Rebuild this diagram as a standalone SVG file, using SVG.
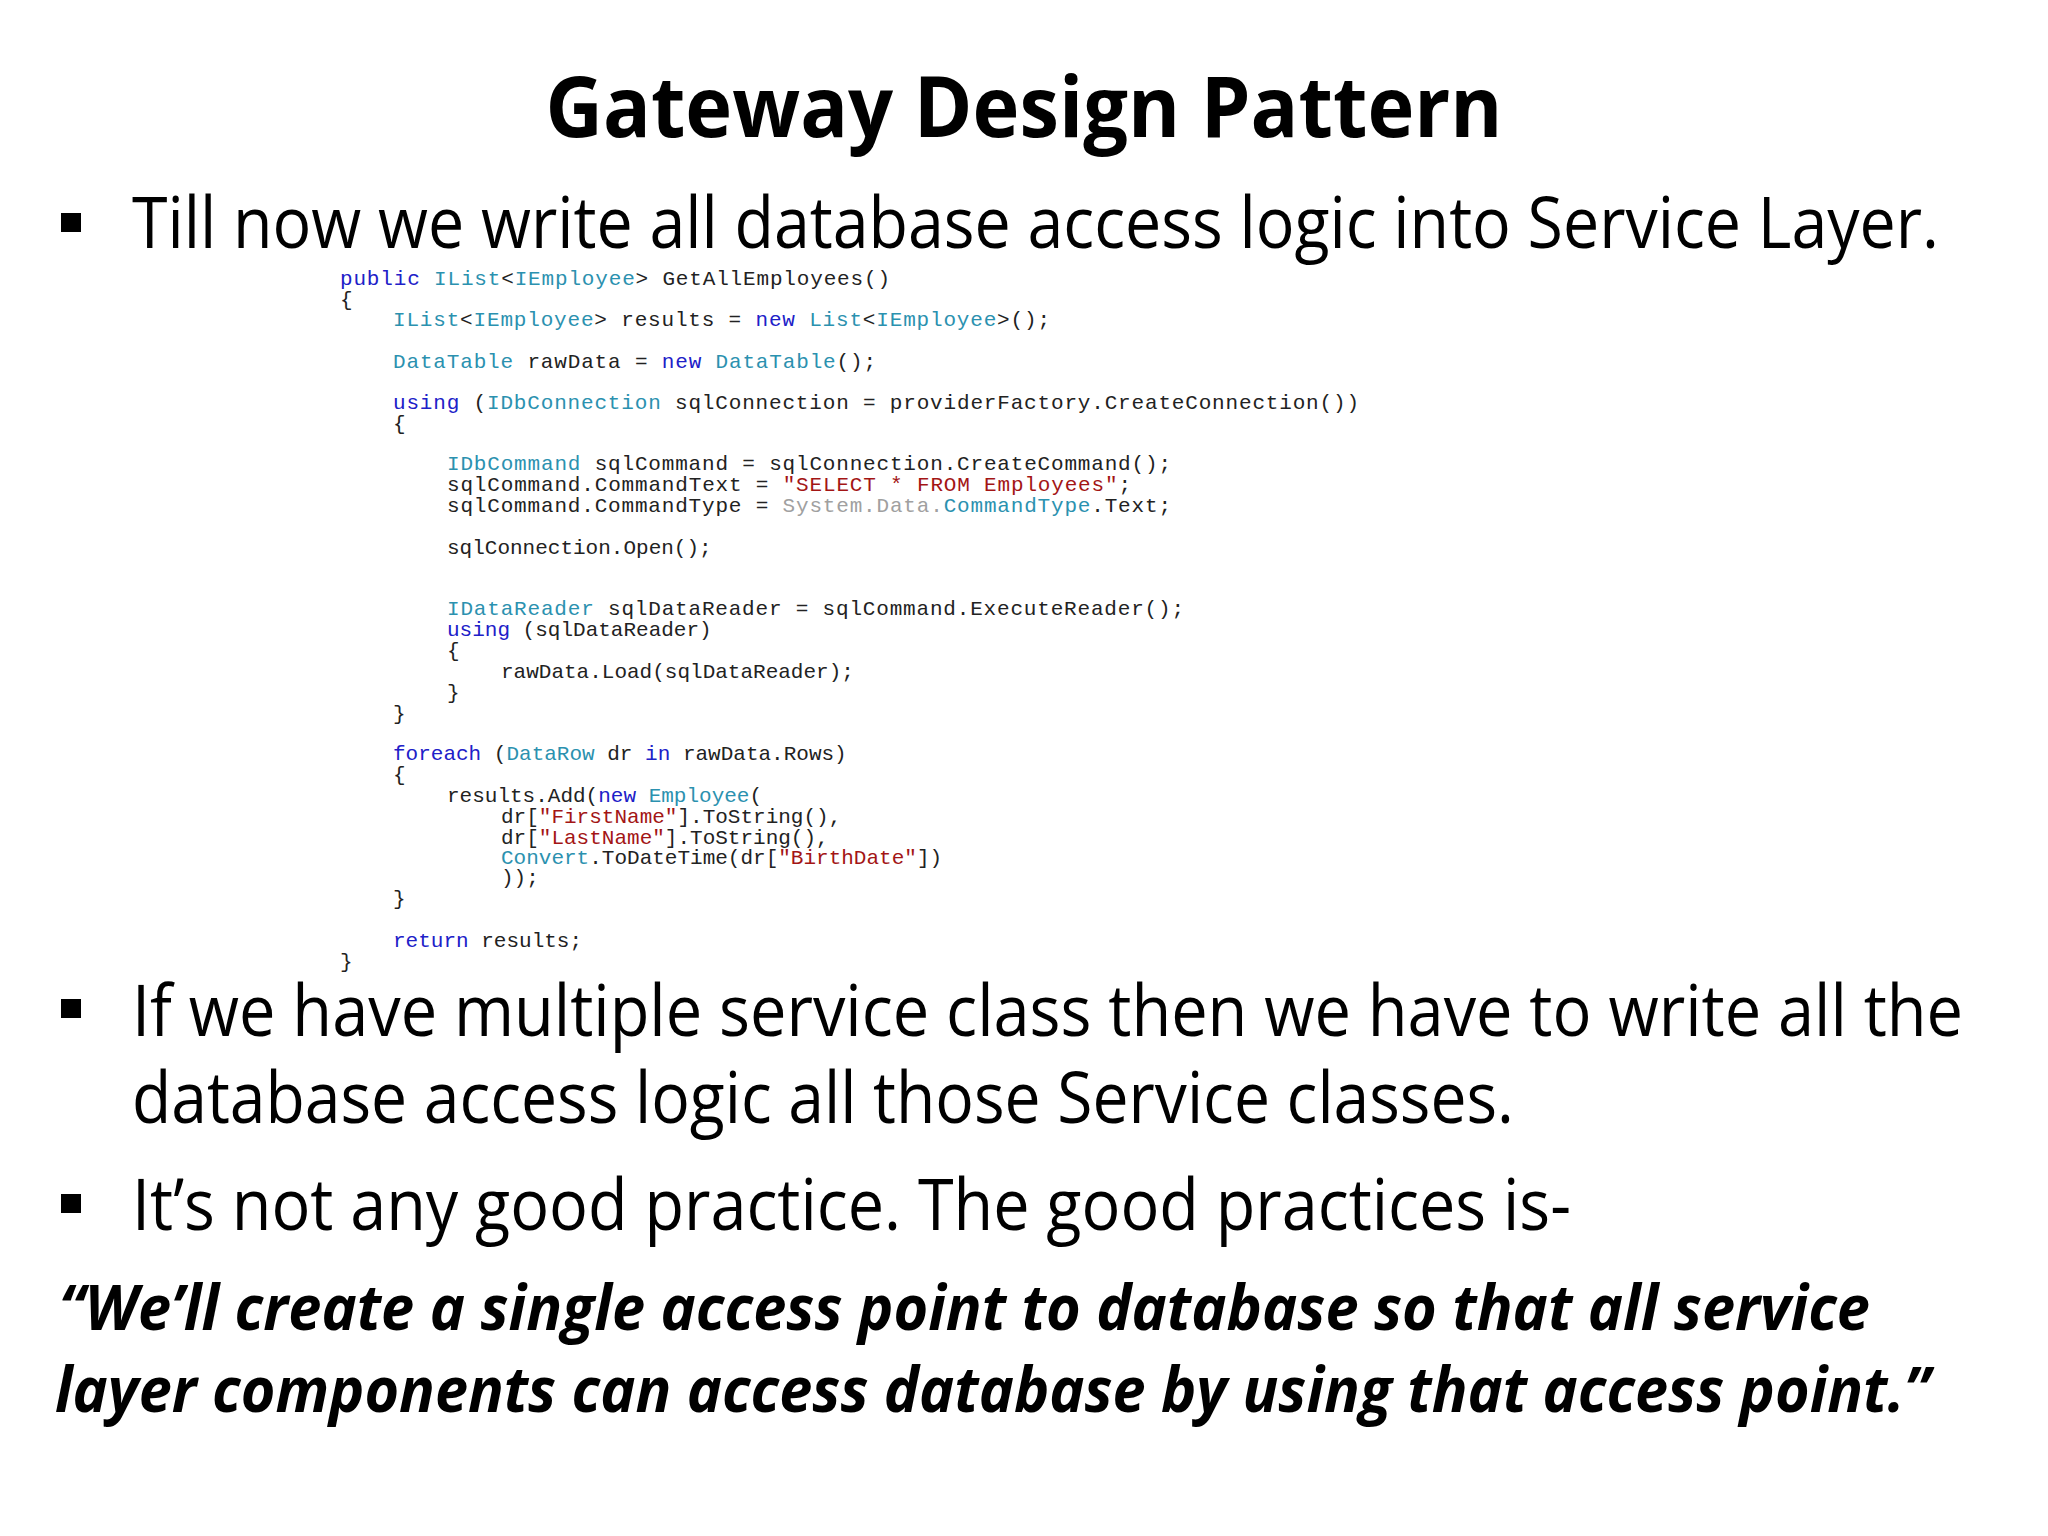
<svg xmlns="http://www.w3.org/2000/svg" width="2048" height="1536" viewBox="0 0 2048 1536">
<style>
.t{font-family:"Open Sans","Liberation Sans",sans-serif;fill:#000}
.c{font-family:"Liberation Mono","DejaVu Sans Mono",monospace;font-size:21px;fill:#222;white-space:pre}
.k{fill:#2020c8}.y{fill:#2b91af}.s{fill:#a31515}.g{fill:#a0a0a0}
</style>
<rect width="2048" height="1536" fill="#fff"/>
<g id="title"><text class="t" x="1024" y="137" text-anchor="middle" font-size="84" font-weight="bold" textLength="957" lengthAdjust="spacingAndGlyphs">Gateway Design Pattern</text></g>
<g id="bullet1"><rect x="61" y="213" width="20" height="19"/>
<text class="t" x="132" y="248" font-size="72" textLength="1807" lengthAdjust="spacingAndGlyphs">Till now we write all database access logic into Service Layer.</text></g>
<g id="code">
<text class="c" x="340" y="285" textLength="550"><tspan class="k">public</tspan> <tspan class="y">IList</tspan>&lt;<tspan class="y">IEmployee</tspan>&gt; GetAllEmployees()</text>
<text class="c" x="340" y="306">{</text>
<text class="c" x="393" y="326" textLength="657"><tspan class="y">IList</tspan>&lt;<tspan class="y">IEmployee</tspan>&gt; results = <tspan class="k">new</tspan> <tspan class="y">List</tspan>&lt;<tspan class="y">IEmployee</tspan>&gt;();</text>
<text class="c" x="393" y="368" textLength="483"><tspan class="y">DataTable</tspan> rawData = <tspan class="k">new</tspan> <tspan class="y">DataTable</tspan>();</text>
<text class="c" x="393" y="409" textLength="966"><tspan class="k">using</tspan> (<tspan class="y">IDbConnection</tspan> sqlConnection = providerFactory.CreateConnection())</text>
<text class="c" x="393" y="430">{</text>
<text class="c" x="447" y="470" textLength="724"><tspan class="y">IDbCommand</tspan> sqlCommand = sqlConnection.CreateCommand();</text>
<text class="c" x="447" y="491" textLength="684">sqlCommand.CommandText = <tspan class="s">"SELECT * FROM Employees"</tspan>;</text>
<text class="c" x="447" y="512" textLength="724">sqlCommand.CommandType = <tspan class="g">System.Data.</tspan><tspan class="y">CommandType</tspan>.Text;</text>
<text class="c" x="447" y="554">sqlConnection.Open();</text>
<text class="c" x="447" y="615" textLength="737"><tspan class="y">IDataReader</tspan> sqlDataReader = sqlCommand.ExecuteReader();</text>
<text class="c" x="447" y="636"><tspan class="k">using</tspan> (sqlDataReader)</text>
<text class="c" x="447" y="657">{</text>
<text class="c" x="501" y="678">rawData.Load(sqlDataReader);</text>
<text class="c" x="447" y="699">}</text>
<text class="c" x="393" y="720">}</text>
<text class="c" x="393" y="760"><tspan class="k">foreach</tspan> (<tspan class="y">DataRow</tspan> dr <tspan class="k">in</tspan> rawData.Rows)</text>
<text class="c" x="393" y="781">{</text>
<text class="c" x="447" y="802">results.Add(<tspan class="k">new</tspan> <tspan class="y">Employee</tspan>(</text>
<text class="c" x="501" y="823">dr[<tspan class="s">"FirstName"</tspan>].ToString(),</text>
<text class="c" x="501" y="844">dr[<tspan class="s">"LastName"</tspan>].ToString(),</text>
<text class="c" x="501" y="864"><tspan class="y">Convert</tspan>.ToDateTime(dr[<tspan class="s">"BirthDate"</tspan>])</text>
<text class="c" x="501" y="884">));</text>
<text class="c" x="393" y="905">}</text>
<text class="c" x="393" y="947"><tspan class="k">return</tspan> results;</text>
<text class="c" x="340" y="968">}</text>
</g>
<g id="bullet2"><rect x="61" y="999" width="20" height="19"/>
<text class="t" x="132" y="1036" font-size="72" textLength="1831" lengthAdjust="spacingAndGlyphs">If we have multiple service class then we have to write all the</text>
<text class="t" x="132" y="1123" font-size="72" textLength="1382" lengthAdjust="spacingAndGlyphs">database access logic all those Service classes.</text></g>
<g id="bullet3"><rect x="61" y="1194" width="20" height="19"/>
<text class="t" x="132" y="1230" font-size="72" textLength="1439" lengthAdjust="spacingAndGlyphs">It’s not any good practice. The good practices is-</text></g>
<g id="quote">
<text class="t" x="59" y="1330" font-size="62" font-weight="bold" font-style="italic" textLength="1811" lengthAdjust="spacingAndGlyphs">“We’ll create a single access point to database so that all service</text>
<text class="t" x="55" y="1412" font-size="62" font-weight="bold" font-style="italic" textLength="1875" lengthAdjust="spacingAndGlyphs">layer components can access database by using that access point.”</text>
</g>
</svg>
